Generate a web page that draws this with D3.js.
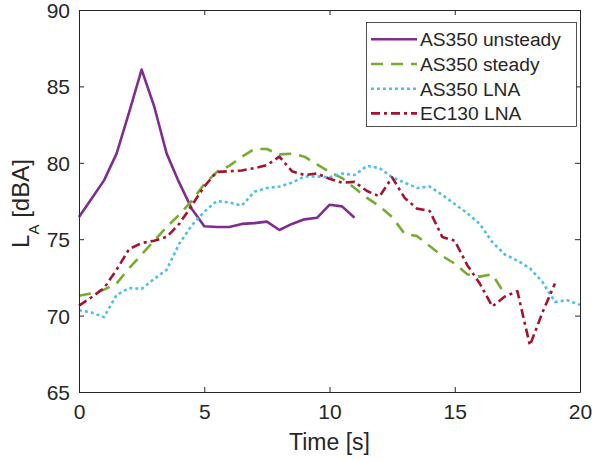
<!DOCTYPE html>
<html lang="en">
<head>
<meta charset="UTF-8">
<title>LA vs time</title>
<script src="https://d3js.org/d3.v7.min.js"></script>
<style>
    body { margin: 0; background: #fff; }
    svg { display: block; font-family: 'Liberation Sans', Arial, sans-serif; }
    .tick text { fill: #262626; }
</style>
</head>
<body>
<svg id="chart" width="592" height="462"></svg>
<script>
    // time axis samples (s)
    const tUnsteady = d3.range(0, 11.01, 0.5);
    const tSteady = d3.range(0, 17.01, 0.5);
    const tLnaAS = d3.range(0, 20.01, 0.5);
    const tLnaEC = d3.range(0, 19.01, 0.5);

    // LA values (dBA)
    const asUnsteady = [76.45, 77.65, 78.85, 80.6, 83.3, 86.1, 83.7, 80.6, 78.7, 77.0, 75.85,
        75.8, 75.8, 76.0, 76.05, 76.15, 75.6, 76.0, 76.3, 76.4, 77.25, 77.15, 76.4];
    const asSteady = [71.3, 71.45, 71.7, 72.1, 73.1, 74.0, 74.9, 75.8, 76.6, 77.5, 78.6,
        79.4, 79.8, 80.4, 80.9, 80.9, 80.55, 80.6, 80.4, 79.9, 79.4, 79.0, 78.35,
        77.7, 77.15, 76.45, 75.35, 75.2, 74.55, 73.9, 73.4, 72.7, 72.55, 72.7, 71.4];
    const asLna = [70.35, 70.2, 69.9, 71.35, 71.8, 71.75, 72.4, 73.0, 74.7, 75.9, 76.8,
        77.5, 77.4, 77.2, 78.1, 78.35, 78.45, 78.7, 79.1, 79.1, 79.05, 79.3, 79.2,
        79.8, 79.65, 79.05, 78.7, 78.35, 78.45, 77.9, 77.3, 76.7, 76.0, 74.8, 74.0,
        73.6, 73.1, 72.2, 70.9, 71.0, 70.7];
    const ecLna = [70.65, 71.2, 71.8, 73.0, 74.35, 74.75, 74.9, 75.15, 76.0, 77.2, 78.45,
        79.4, 79.45, 79.5, 79.65, 79.85, 80.4, 79.45, 79.2, 79.3, 78.95, 78.7, 78.75,
        78.15, 77.8, 79.05, 77.7, 77.0, 76.85, 75.15, 74.9, 73.3, 72.1, 70.6, 71.25,
        71.6, 68.05, 70.2, 72.1];

    const seriesNames = ["AS350 unsteady", "AS350 steady", "AS350 LNA", "EC130 LNA"];
    const xTicks = [0, 5, 10, 15, 20];
    const yTicks = [65, 70, 75, 80, 85, 90];

    const series = [
        { name: seriesNames[0], t: tUnsteady, v: asUnsteady, color: "#7E2F8E", dash: null },
        { name: seriesNames[1], t: tSteady, v: asSteady, color: "#77AC30", dash: "12,8" },
        { name: seriesNames[2], t: tLnaAS, v: asLna, color: "#4DBEEE", dash: "3,3" },
        { name: seriesNames[3], t: tLnaEC, v: ecLna, color: "#A2142F", dash: "9,4,3,4" }
    ];

    const svg = d3.select("#chart");
    const pLeft = 79, pRight = 580, pTop = 10, pBottom = 392;
    const axisColor = "#262626";

    const x = d3.scaleLinear().domain([0, 20]).range([pLeft, pRight]);
    const y = d3.scaleLinear().domain([65, 90]).range([pBottom, pTop]);

    // lines
    const line = d3.line().x(d => x(d[0])).y(d => y(d[1]));
    svg.append("g").selectAll("path")
        .data(series)
        .enter()
        .append("path")
        .attr("d", s => line(s.t.map((t, i) => [t, s.v[i]])))
        .attr("fill", "none")
        .attr("stroke", s => s.color)
        .attr("stroke-width", 2.6)
        .attr("stroke-dasharray", s => s.dash)
        .attr("stroke-linejoin", "round");

    // axes, MATLAB style ticks pointing in on all four sides
    const styleAxis = g => {
        g.selectAll(".domain").attr("stroke", axisColor);
        g.selectAll(".tick line").attr("stroke", axisColor);
        g.selectAll(".tick text").attr("font-size", 21);
    };
    svg.append("g").attr("transform", `translate(0,${pBottom})`)
        .call(d3.axisBottom(x).tickValues(xTicks).tickSizeInner(-5).tickSizeOuter(0).tickPadding(12))
        .call(styleAxis);
    svg.append("g").attr("transform", `translate(${pLeft},0)`)
        .call(d3.axisLeft(y).tickValues(yTicks).tickSizeInner(-5).tickSizeOuter(0).tickPadding(9))
        .call(styleAxis)
        .call(g => g.selectAll(".tick text").attr("dy", "0.36em"));
    svg.append("g").attr("transform", `translate(0,${pTop})`)
        .call(d3.axisTop(x).tickValues(xTicks).tickSizeInner(-5).tickSizeOuter(0).tickFormat(""))
        .call(styleAxis);
    svg.append("g").attr("transform", `translate(${pRight},0)`)
        .call(d3.axisRight(y).tickValues(yTicks).tickSizeInner(-5).tickSizeOuter(0).tickFormat(""))
        .call(styleAxis);

    // axis titles
    svg.append("text")
        .attr("x", (pLeft + pRight) / 2).attr("y", 450)
        .attr("text-anchor", "middle").attr("font-size", 23).attr("fill", axisColor)
        .text("Time [s]");
    const yl = svg.append("text")
        .attr("transform", "translate(28.5,203.5) rotate(-90)")
        .attr("text-anchor", "middle").attr("font-size", 24).attr("fill", axisColor);
    yl.append("tspan").text("L");
    yl.append("tspan").attr("dy", 10).attr("font-size", 15).text("A");
    yl.append("tspan").attr("dy", -10).text(" [dBA]");

    // legend
    const lg = svg.append("g");
    lg.append("rect")
        .attr("x", 366.5).attr("y", 22.5).attr("width", 210).attr("height", 104)
        .attr("fill", "#fff").attr("stroke", axisColor).attr("stroke-width", 0.8);
    const rows = lg.selectAll("g.row").data(series).enter().append("g")
        .attr("transform", (d, i) => `translate(0,${39.3 + i * 24.7})`);
    rows.append("line")
        .attr("x1", 371).attr("x2", 417).attr("y1", 0).attr("y2", 0)
        .attr("stroke", d => d.color).attr("stroke-width", 2.6)
        .attr("stroke-dasharray", d => d.dash);
    rows.append("text")
        .attr("x", 420).attr("y", 6.8)
        .attr("font-size", 19.2).attr("fill", axisColor)
        .text(d => d.name);
</script>
</body>
</html>
